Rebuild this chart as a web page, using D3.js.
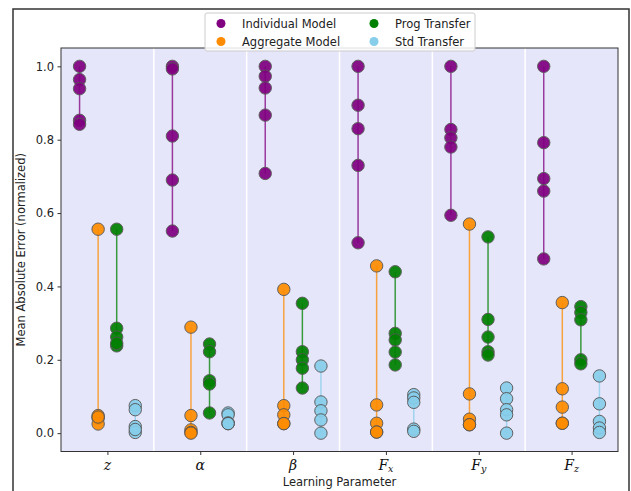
<!DOCTYPE html>
<html>
<head>
<meta charset="utf-8">
<script src="https://cdn.jsdelivr.net/npm/d3@7"></script>
<style>
  html, body { margin: 0; padding: 0; background: #fff; }
  svg { display: block; }
</style>
</head>
<body>
<svg id="chart" width="631" height="491"></svg>
<script>
// ---- data ----
const parameters = ["z", "alpha", "beta", "Fx", "Fy", "Fz"];
const seriesNames = ["Individual Model", "Aggregate Model", "Prog Transfer", "Std Transfer"];
const seriesColors = ["#800080", "#ff8c00", "#008000", "#87ceeb"];
const individualModel = [
  [1.0, 0.964, 0.939, 0.853, 0.842],
  [1.0, 0.993, 0.810, 0.690, 0.551],
  [1.0, 0.973, 0.941, 0.867, 0.708],
  [1.0, 0.894, 0.830, 0.730, 0.519],
  [1.0, 0.828, 0.805, 0.780, 0.594],
  [1.0, 0.792, 0.694, 0.660, 0.475]
];
const aggregateModel = [
  [0.556, 0.048, 0.041, 0.025, 0.044],
  [0.289, 0.048, 0.009, 0.002, 0.0],
  [0.392, 0.075, 0.050, 0.026, 0.026],
  [0.456, 0.077, 0.027, 0.003, 0.003],
  [0.570, 0.107, 0.038, 0.023, 0.023],
  [0.356, 0.121, 0.071, 0.027, 0.027]
];
const progTransfer = [
  [0.556, 0.286, 0.262, 0.238, 0.245],
  [0.243, 0.222, 0.143, 0.134, 0.055],
  [0.354, 0.222, 0.200, 0.177, 0.123],
  [0.440, 0.272, 0.254, 0.221, 0.186],
  [0.535, 0.310, 0.262, 0.222, 0.213],
  [0.345, 0.329, 0.309, 0.200, 0.189]
];
const stdTransfer = [
  [0.075, 0.064, 0.018, 0.002, 0.010],
  [0.055, 0.050, 0.028, 0.026, 0.026],
  [0.183, 0.085, 0.061, 0.036, 0.0],
  [0.105, 0.096, 0.084, 0.011, 0.005],
  [0.123, 0.094, 0.064, 0.050, 0.0],
  [0.156, 0.080, 0.032, 0.014, 0.002]
];
const yTicks = [0.0, 0.2, 0.4, 0.6, 0.8, 1.0];
const seriesData = [individualModel, aggregateModel, progTransfer, stdTransfer];
const seriesOffsets = [-0.3, -0.1, 0.1, 0.3];

// ---- layout ----
const svg = d3.select("#chart");
const pLeft = 61, pRight = 618, pTop = 48, pBottom = 451.5;

// figure border
svg.append("rect").attr("x", 13).attr("y", 9).attr("width", 616).attr("height", 500)
  .attr("fill", "none").attr("stroke", "#333").attr("stroke-width", 1.5);

const x = d3.scaleLinear().domain([-0.5, 5.5]).range([pLeft, pRight]);
const y = d3.scaleLinear().domain([-0.05, 1.05]).range([pBottom, pTop]);

// background
svg.append("rect").attr("x", pLeft).attr("y", pTop)
  .attr("width", pRight - pLeft).attr("height", pBottom - pTop)
  .attr("fill", "#e6e6fa");

// separators
svg.append("g").selectAll("line").data(d3.range(1, parameters.length))
  .join("line")
  .attr("x1", d => x(d - 0.5)).attr("x2", d => x(d - 0.5))
  .attr("y1", pTop).attr("y2", pBottom)
  .attr("stroke", "#ffffff").attr("stroke-width", 1.5);

// series
seriesData.forEach((ser, si) => {
  const g = svg.append("g");
  ser.forEach((vals, ci) => {
    const cx = x(ci + seriesOffsets[si]);
    const [mn, mx] = d3.extent(vals);
    g.append("line")
      .attr("x1", cx).attr("x2", cx)
      .attr("y1", y(mn)).attr("y2", y(mx))
      .attr("stroke", seriesColors[si]).attr("stroke-width", 1.5).attr("opacity", 0.75);
    g.selectAll(null).data(vals).join("circle")
      .attr("cx", cx).attr("cy", d => y(d)).attr("r", 6.2)
      .attr("fill", seriesColors[si])
      .attr("stroke", "#555").attr("stroke-width", 1)
      .attr("opacity", 0.92);
  });
});

// frame
svg.append("rect").attr("x", pLeft).attr("y", pTop)
  .attr("width", pRight - pLeft).attr("height", pBottom - pTop)
  .attr("fill", "none").attr("stroke", "#333").attr("stroke-width", 1);

// y axis
const yAxis = d3.axisLeft(y).tickValues(yTicks).tickFormat(d3.format(".1f")).tickSize(3.5).tickPadding(3.5);
const yg = svg.append("g").attr("transform", `translate(${pLeft},0)`).call(yAxis);
yg.select(".domain").remove();
yg.selectAll("text").attr("font-family", "DejaVu Sans").attr("font-size", 11.5).attr("fill", "#222");
yg.selectAll("line").attr("stroke", "#333");

// x axis
const xAxis = d3.axisBottom(x).tickValues(d3.range(parameters.length)).tickFormat("").tickSize(3.5);
const xg = svg.append("g").attr("transform", `translate(0,${pBottom})`).call(xAxis);
xg.select(".domain").remove();
xg.selectAll("line").attr("stroke", "#333");

// math labels
const labelG = svg.append("g").attr("font-family", "DejaVu Serif").attr("font-style", "italic").attr("fill", "#111");
const mathLabels = {
  z: ["z", null], alpha: ["\u03b1", null], beta: ["\u03b2", null],
  Fx: ["F", "x"], Fy: ["F", "y"], Fz: ["F", "z"]
};
parameters.forEach((p, i) => {
  const [base, sub] = mathLabels[p];
  const t = labelG.append("text").attr("x", x(i)).attr("y", 470)
    .attr("text-anchor", "middle").attr("font-size", 14);
  t.append("tspan").text(base);
  if (sub) t.append("tspan").attr("font-size", 9.5).attr("dy", 2).text(sub);
});

// axis titles
svg.append("text").attr("x", (pLeft + pRight) / 2).attr("y", 485.5)
  .attr("text-anchor", "middle").attr("font-family", "DejaVu Sans").attr("font-size", 11.5)
  .attr("fill", "#222").text("Learning Parameter");
svg.append("text").attr("transform", `translate(25,${(pTop + pBottom) / 2}) rotate(-90)`)
  .attr("text-anchor", "middle").attr("font-family", "DejaVu Sans").attr("font-size", 11.5)
  .attr("fill", "#222").text("Mean Absolute Error (normalized)");

// legend
const lg = svg.append("g");
lg.append("rect").attr("x", 205).attr("y", 13).attr("width", 270).attr("height", 38).attr("rx", 2)
  .attr("fill", "#ffffff").attr("fill-opacity", 0.85).attr("stroke", "#ccc").attr("stroke-width", 1);
const legendPos = [[221, 23.5], [221, 41.5], [374, 23.5], [374, 41.5]];
seriesNames.forEach((name, i) => {
  const [lx, ly] = legendPos[i];
  lg.append("circle").attr("cx", lx).attr("cy", ly).attr("r", 4.5).attr("fill", seriesColors[i]);
  lg.append("text").attr("x", lx + 21).attr("y", ly + 4).attr("font-family", "DejaVu Sans")
    .attr("font-size", 11.5).attr("fill", "#222").text(name);
});
</script>
</body>
</html>
